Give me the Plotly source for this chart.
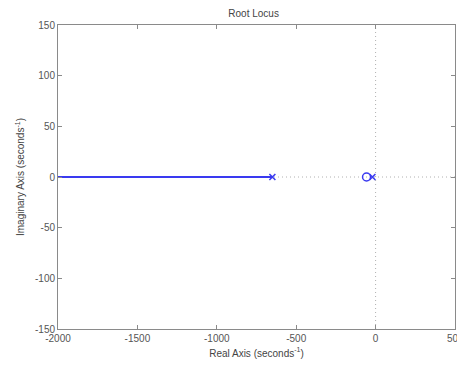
import plotly.graph_objects as go

# Data
locus_x = [-2000, -650]
locus_y = [0, 0]
pole_x = [-650, -20]
pole_y = [0, 0]
zero_x = [-57]
zero_y = [0]
x_ticks = [-2000, -1500, -1000, -500, 0, 500]
y_ticks = [-150, -100, -50, 0, 50, 100, 150]

fig = go.Figure()
# dotted reference axes
fig.add_trace(go.Scatter(x=[-2000, 500], y=[0, 0], mode="lines",
                         line=dict(color="#b0b0b0", width=1, dash="1px,3px"),
                         hoverinfo="skip", showlegend=False))
fig.add_trace(go.Scatter(x=[0, 0], y=[-150, 150], mode="lines",
                         line=dict(color="#b0b0b0", width=1, dash="1px,3px"),
                         hoverinfo="skip", showlegend=False))
fig.add_trace(go.Scatter(x=locus_x, y=locus_y, mode="lines",
                         line=dict(color="#3a3af0", width=2), showlegend=False))
fig.add_trace(go.Scatter(x=pole_x, y=pole_y, mode="markers",
                         marker=dict(symbol="x-thin", size=6, color="#3a3af0",
                                     line=dict(color="#3a3af0", width=1.5)),
                         showlegend=False))
fig.add_trace(go.Scatter(x=zero_x, y=zero_y, mode="markers",
                         marker=dict(symbol="circle-open", size=8, color="#3a3af0",
                                     line=dict(color="#3a3af0", width=1.5)),
                         showlegend=False))

axis_common = dict(showgrid=False, zeroline=False, showline=True, mirror="ticks",
                   linecolor="#8a8a8a", linewidth=1, ticks="inside", ticklen=4,
                   tickcolor="#8a8a8a", tickfont=dict(size=10, color="#555555"))

# last x tick label drawn as annotation so it is clipped by the page edge
shown_x = x_ticks[:-1]
fig.add_annotation(x=x_ticks[-1], y=0, xref="x", yref="paper", yanchor="top",
                   yshift=-2, xanchor="center", showarrow=False,
                   text=str(x_ticks[-1]), font=dict(size=10, color="#555555"))

fig.update_layout(
    width=457, height=367,
    margin=dict(l=58, r=2, t=25, b=38),
    paper_bgcolor="white", plot_bgcolor="white",
    font=dict(family="Liberation Sans, Arial, sans-serif", color="#444444"),
    title=dict(text="Root Locus", x=0.555, xanchor="center", y=0.964, yanchor="middle",
               font=dict(size=10, color="#444444")),
    xaxis=dict(range=[-2000, 500], tickvals=x_ticks,
               ticktext=[str(v) for v in shown_x] + [""],
               title=dict(text="Real Axis (seconds<sup>-1</sup>)", standoff=6,
                          font=dict(size=10, color="#444444")),
               **axis_common),
    yaxis=dict(range=[-150, 150], tickvals=y_ticks,
               ticktext=[str(v) for v in y_ticks],
               title=dict(text="Imaginary Axis (seconds<sup>-1</sup>)", standoff=8,
                          font=dict(size=10, color="#444444")),
               **axis_common),
)

fig.write_html("out.html")
